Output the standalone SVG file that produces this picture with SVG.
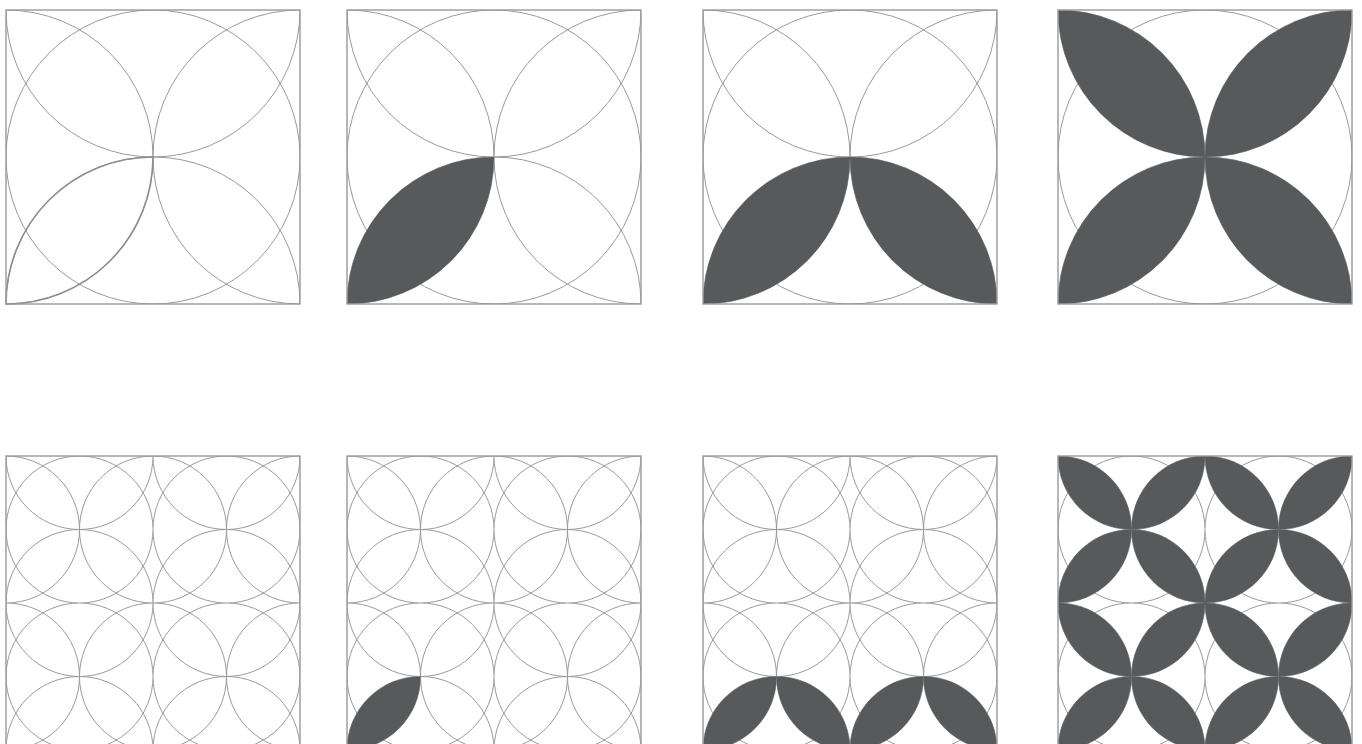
<svg xmlns="http://www.w3.org/2000/svg" xmlns:xlink="http://www.w3.org/1999/xlink" width="1362" height="744" viewBox="0 0 1362 744">
<style>
.ln{fill:none;stroke:#9a9a9a;stroke-width:1;vector-effect:non-scaling-stroke}
.bd{fill:none;stroke:#999;stroke-width:1.4}
.pt{fill:#58595b;stroke:none}
.po{fill:none;stroke:#8e8e8e;stroke-width:1.6}
</style>
<defs>
<clipPath id="c" clipPathUnits="userSpaceOnUse"><rect x="0" y="0" width="294" height="294"/></clipPath>
<g id="circ">
<g clip-path="url(#c)">
<circle class="ln" cx="147" cy="0" r="147"/>
<circle class="ln" cx="294" cy="147" r="147"/>
<circle class="ln" cx="147" cy="294" r="147"/>
<circle class="ln" cx="0" cy="147" r="147"/>
<circle class="ln" cx="147" cy="147" r="147"/>
</g>
</g>
<rect id="frame" class="bd" x="0" y="0" width="294" height="294"/>
<path id="bl" class="pt" d="M0,294 A147,147 0 0 0 147,147 A147,147 0 0 0 0,294Z"/>
<use id="tl" xlink:href="#bl" transform="rotate(90 147 147)"/>
<use id="tr" xlink:href="#bl" transform="rotate(180 147 147)"/>
<use id="br" xlink:href="#bl" transform="rotate(270 147 147)"/>
<g id="full"><use xlink:href="#circ"/><use xlink:href="#bl"/><use xlink:href="#tl"/><use xlink:href="#tr"/><use xlink:href="#br"/></g>
<g id="half"><use xlink:href="#circ"/><use xlink:href="#bl"/><use xlink:href="#br"/></g>
</defs>

<g id="top-1" transform="translate(6 10)">
<use xlink:href="#circ"/>
<path class="po" d="M0,294 A147,147 0 0 0 147,147 A147,147 0 0 0 0,294Z"/>
<use xlink:href="#frame"/>
</g>
<g id="top-2" transform="translate(347 10)">
<use xlink:href="#circ"/><use xlink:href="#bl"/><use xlink:href="#frame"/>
</g>
<g id="top-3" transform="translate(703 10)">
<use xlink:href="#half"/><use xlink:href="#frame"/>
</g>
<g id="top-4" transform="translate(1058 10)">
<use xlink:href="#full"/><use xlink:href="#frame"/>
</g>

<g id="bottom-1" transform="translate(6 456)">
<use xlink:href="#circ" transform="scale(0.5)"/>
<use xlink:href="#circ" transform="translate(147 0) scale(0.5)"/>
<use xlink:href="#circ" transform="translate(0 147) scale(0.5)"/>
<use xlink:href="#circ" transform="translate(147 147) scale(0.5)"/>
<use xlink:href="#frame"/>
</g>
<g id="bottom-2" transform="translate(347 456)">
<use xlink:href="#circ" transform="scale(0.5)"/>
<use xlink:href="#circ" transform="translate(147 0) scale(0.5)"/>
<g transform="translate(0 147) scale(0.5)"><use xlink:href="#circ"/><use xlink:href="#bl"/></g>
<use xlink:href="#circ" transform="translate(147 147) scale(0.5)"/>
<use xlink:href="#frame"/>
</g>
<g id="bottom-3" transform="translate(703 456)">
<use xlink:href="#circ" transform="scale(0.5)"/>
<use xlink:href="#circ" transform="translate(147 0) scale(0.5)"/>
<use xlink:href="#half" transform="translate(0 147) scale(0.5)"/>
<use xlink:href="#half" transform="translate(147 147) scale(0.5)"/>
<use xlink:href="#frame"/>
</g>
<g id="bottom-4" transform="translate(1058 456)">
<use xlink:href="#full" transform="scale(0.5)"/>
<use xlink:href="#full" transform="translate(147 0) scale(0.5)"/>
<use xlink:href="#full" transform="translate(0 147) scale(0.5)"/>
<use xlink:href="#full" transform="translate(147 147) scale(0.5)"/>
<use xlink:href="#frame"/>
</g>
</svg>
